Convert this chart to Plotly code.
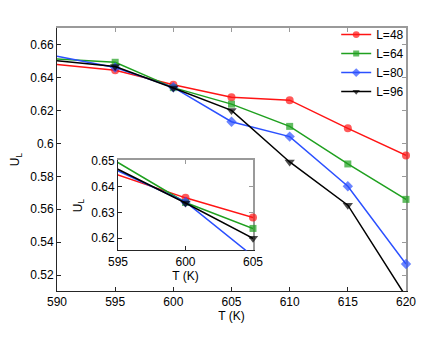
import plotly.graph_objects as go

# temperatures (K) and Binder cumulant U_L for each lattice size
T = [590, 595, 600, 605, 610, 615, 620]
u_48 = [0.6478, 0.6444, 0.6356, 0.6280, 0.6262, 0.6091, 0.5927]
u_64 = [0.6512, 0.6492, 0.6338, 0.6238, 0.6103, 0.5875, 0.5660]
u_80 = [0.6528, 0.6460, 0.6340, 0.6131, 0.6041, 0.5740, 0.5268]
u_96 = [0.6502, 0.6466, 0.6336, 0.6200, 0.5887, 0.5625, 0.5070]

labels = ["L=48", "L=64", "L=80", "L=96"]

main_xticks = [590, 595, 600, 605, 610, 615, 620]
main_yticks = [0.52, 0.54, 0.56, 0.58, 0.60, 0.62, 0.64, 0.66]
main_ytext = ["0.52", "0.54", "0.56", "0.58", "0.6", "0.62", "0.64", "0.66"]

inset_xticks = [595, 600, 605]
inset_yticks = [0.62, 0.63, 0.64, 0.65]
inset_ytext = ["0.62", "0.63", "0.64", "0.65"]

colors = ["#ff1414", "#1fa01f", "#2b50ff", "#000000"]
symbols = ["circle", "square", "diamond", "triangle-down"]
msizes = [8, 7, 8, 9]

main_xr = [590, 620]
main_yr = [0.5104, 0.670]
inset_xr = [595, 605]
inset_yr = [0.6153, 0.650]

FONT = "Liberation Sans, Arial, Helvetica, sans-serif"
DARK = "#262626"
GRAY = "#9a9a9a"


def marker_sizes(xs, ys, xr, yr, size):
    """Hide markers that sit on the left edge or outside the axes."""
    return [
        size if xr[0] < x <= xr[1] and yr[0] <= y <= yr[1] else 0
        for x, y in zip(xs, ys)
    ]


fig = go.Figure()
series = [u_48, u_64, u_80, u_96]

# empty traces so the gray top/right edge axes get drawn
for xa, ya in [("x3", "y3"), ("x4", "y4")]:
    fig.add_trace(go.Scatter(x=[], y=[], xaxis=xa, yaxis=ya,
                             showlegend=False, hoverinfo="skip"))

for ys, name, color, sym, ms in zip(series, labels, colors, symbols, msizes):
    fig.add_trace(
        go.Scatter(
            x=T,
            y=ys,
            mode="lines+markers",
            name=name,
            line=dict(color=color, width=1.5),
            marker=dict(
                symbol=sym,
                color=color,
                size=marker_sizes(T, ys, main_xr, main_yr, ms),
                line=dict(width=0),
            ),
            cliponaxis=False,
            xaxis="x",
            yaxis="y",
        )
    )

for ys, name, color, sym, ms in zip(series, labels, colors, symbols, msizes):
    fig.add_trace(
        go.Scatter(
            x=T,
            y=ys,
            mode="lines+markers",
            name=name,
            showlegend=False,
            line=dict(color=color, width=1.5),
            marker=dict(
                symbol=sym,
                color=color,
                size=marker_sizes(T, ys, inset_xr, inset_yr, ms),
                line=dict(width=0),
            ),
            cliponaxis=False,
            xaxis="x2",
            yaxis="y2",
        )
    )

axis_common = dict(
    showgrid=False,
    zeroline=False,
    showline=True,
    linecolor=DARK,
    linewidth=1,
    mirror=False,
    ticks="inside",
    ticklen=4,
    tickcolor=DARK,
    tickfont=dict(size=12, color="black"),
    layer="below traces",
    automargin=False,
)

# top / right edges of the boxes: gray, ticks only
edge_common = dict(
    showgrid=False,
    zeroline=False,
    showline=True,
    linecolor=GRAY,
    linewidth=1.5,
    ticks="inside",
    ticklen=4,
    tickcolor=GRAY,
    showticklabels=False,
    layer="below traces",
    automargin=False,
)

# page body has an 8px margin, so the figure is 8px smaller than the window
fig.update_layout(
    width=428,
    height=330,
    autosize=False,
    margin=dict(l=49, r=30, t=17, b=47),
    paper_bgcolor="white",
    plot_bgcolor="white",
    font=dict(family=FONT, size=12, color="black"),
    showlegend=True,
    legend=dict(
        x=0.80,
        y=1.03,
        xanchor="left",
        yanchor="top",
        bgcolor="rgba(0,0,0,0)",
        font=dict(size=12),
        itemwidth=30,
        tracegroupgap=0,
    ),
    xaxis=dict(
        axis_common,
        range=main_xr,
        tickvals=main_xticks,
        title=dict(text="T (K)", standoff=0, font=dict(size=12)),
        domain=[0, 1],
        anchor="y",
    ),
    yaxis=dict(
        axis_common,
        range=main_yr,
        tickvals=main_yticks,
        ticktext=main_ytext,
        title=dict(text="U<sub>L</sub>", standoff=10, font=dict(size=12)),
        domain=[0, 1],
        anchor="x",
    ),
    xaxis3=dict(edge_common, range=main_xr, tickvals=main_xticks,
                overlaying="x", side="top", anchor="y3"),
    yaxis3=dict(edge_common, range=main_yr, tickvals=main_yticks,
                overlaying="y", side="right", anchor="x3"),
    xaxis2=dict(
        axis_common,
        range=inset_xr,
        tickvals=inset_xticks,
        title=dict(text="T (K)", standoff=0, font=dict(size=12)),
        domain=[0.1748, 0.5616],
        anchor="y2",
    ),
    yaxis2=dict(
        axis_common,
        range=inset_yr,
        tickvals=inset_yticks,
        ticktext=inset_ytext,
        title=dict(text="U<sub>L</sub>", standoff=6, font=dict(size=12)),
        domain=[0.1541, 0.4962],
        anchor="x2",
    ),
    xaxis4=dict(edge_common, range=inset_xr, tickvals=inset_xticks,
                overlaying="x2", side="top", anchor="y4"),
    yaxis4=dict(edge_common, range=inset_yr, tickvals=inset_yticks,
                overlaying="y2", side="right", anchor="x4"),
)

fig.write_html("out.html")
